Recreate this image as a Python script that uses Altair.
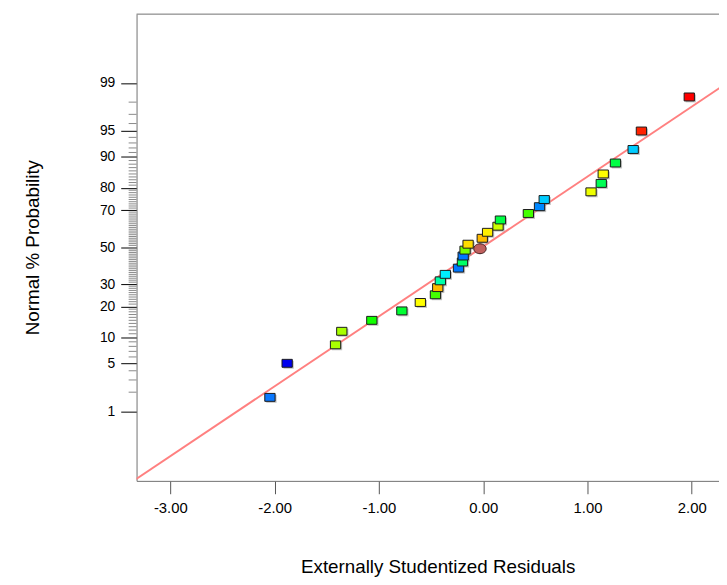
import altair as alt
import pandas as pd
from statistics import NormalDist

# ---- data ----
residual = [-2.045, -1.880, -1.416, -1.356, -1.068, -0.780, -0.603, -0.458, -0.436, -0.411,
            -0.363, -0.237, -0.199, -0.192, -0.174, -0.145, -0.009, 0.042, 0.142, 0.165,
            0.433, 0.540, 0.585, 1.034, 1.132, 1.151, 1.268, 1.438, 1.517, 1.976]
probability = [1.67, 5.00, 8.33, 11.67, 15.00, 18.33, 21.67, 25.00, 28.33, 31.67,
               35.00, 38.33, 41.67, 45.00, 48.33, 51.67, 55.00, 58.33, 61.67, 65.00,
               68.33, 71.67, 75.00, 78.33, 81.67, 85.00, 88.33, 91.67, 95.00, 98.33]
point_colors = ["#0a78ff", "#0000ee", "#aaff00", "#a8ff00", "#11ff00", "#00ff33", "#ffff00",
                "#44ff00", "#ffbb00", "#00ffaa", "#00eeff", "#0077ff", "#00ff66", "#0077ff",
                "#77ff00", "#ffdd00", "#ffbb00", "#ffee00", "#ccff00", "#00ff44", "#44ff00",
                "#0088ff", "#00ccff", "#eeff00", "#00ff55", "#ffff00", "#00ff44", "#00ccff",
                "#ff2200", "#ff0000"]

circle_residual = [-0.031]
circle_probability = [49.1]

line_residual = [-3.33, 2.30]
line_probability = [0.0506, 98.89]

major_pct = [1, 5, 10, 20, 30, 50, 70, 80, 90, 95, 99]
minor_pct = [p for p in range(2, 99) if p not in major_pct]
x_ticks = [-3, -2, -1, 0, 1, 2]

X_DOMAIN = [-3.324, 2.261]
Y_DOMAIN = [-3.31, 3.30]
W, H = 589, 472
FONT = "Liberation Sans"

pts = pd.DataFrame({"residual": residual, "pct": probability, "color": point_colors})
circ = pd.DataFrame({"residual": circle_residual, "pct": circle_probability})
line = pd.DataFrame({"residual": line_residual, "pct": line_probability})
minor = pd.DataFrame({"pct": minor_pct})

major_z = [NormalDist().inv_cdf(p / 100) for p in major_pct]

xscale = alt.Scale(domain=X_DOMAIN, nice=False, zero=False)
yscale = alt.Scale(domain=Y_DOMAIN, nice=False, zero=False)

x_axis = alt.Axis(values=x_ticks,
                  labelExpr="(datum.value < 0 ? '-' : '') + format(abs(datum.value), '.2f')",
                  tickSize=13, tickColor="#555555", labelPadding=7, labelFontSize=15,
                  labelColor="black", labelFlush=False, grid=False,
                  domainColor="#707070",
                  title="Externally Studentized Residuals", titleFontSize=19,
                  titleFontWeight="normal", titleColor="black",
                  titleX=304.5, titleY=93, titleBaseline="alphabetic")
y_axis = alt.Axis(values=major_z,
                  labelExpr="format(cumulativeNormal(datum.value) * 100, '.0f')",
                  tickSize=16, tickColor="black", labelPadding=6, labelFontSize=14,
                  labelColor="black", grid=False, domainColor="#707070",
                  title="Normal % Probability", titleFontSize=19,
                  titleFontWeight="normal", titleColor="black",
                  titleX=-99, titleY=235.6, titleBaseline="alphabetic")

zcalc = "quantileNormal(datum.pct / 100)"

minor_ticks = alt.Chart(minor).transform_calculate(z=zcalc).mark_rule(
    color="#8a8a8a", strokeWidth=1
).encode(
    y=alt.Y("z:Q", scale=yscale, axis=y_axis),
    x=alt.value(-8), x2=alt.value(0)
)

top_border = alt.Chart(pd.DataFrame({"a": [0]})).mark_rule(
    color="#707070", strokeWidth=1
).encode(x=alt.value(0), x2=alt.value(W), y=alt.value(0))

fit_line = alt.Chart(line).transform_calculate(z=zcalc).mark_line(
    color="#ff8080", strokeWidth=2, clip=True
).encode(
    x=alt.X("residual:Q", scale=xscale, axis=x_axis),
    y=alt.Y("z:Q", scale=yscale)
)

RECT = "M-1.3,-1H1.3V1H-1.3Z"
ELLIPSE = "M-1.25,0A1.25,1,0,1,0,1.25,0A1.25,1,0,1,0,-1.25,0Z"

shadow = alt.Chart(pts).transform_calculate(z=zcalc).mark_point(
    shape=RECT, filled=True, size=64, color="#9a9a9a", opacity=0.6,
    xOffset=1.5, yOffset=1.5, strokeWidth=0
).encode(x=alt.X("residual:Q", scale=xscale), y=alt.Y("z:Q", scale=yscale))

points = alt.Chart(pts).transform_calculate(z=zcalc).mark_point(
    shape=RECT, filled=True, size=64, stroke="#1a1a1a", strokeWidth=1, opacity=1
).encode(
    x=alt.X("residual:Q", scale=xscale),
    y=alt.Y("z:Q", scale=yscale),
    fill=alt.Fill("color:N", scale=None, legend=None)
)

circle = alt.Chart(circ).transform_calculate(z=zcalc).mark_point(
    shape=ELLIPSE, filled=True, size=100, fill="#c0605e", stroke="#3a1a1a",
    strokeWidth=1, opacity=1
).encode(x=alt.X("residual:Q", scale=xscale), y=alt.Y("z:Q", scale=yscale))

chart = alt.layer(minor_ticks, top_border, fit_line, shadow, points, circle).properties(
    width=W, height=H,
    padding={"left": 130, "top": 3, "right": 0, "bottom": 94},
    autosize=alt.AutoSizeParams(type="none"),
    background="white"
).configure_view(stroke=None).configure_axis(
    labelFont=FONT, titleFont=FONT
)

chart.save("out.html", embed_options={"renderer": "svg", "actions": False})
